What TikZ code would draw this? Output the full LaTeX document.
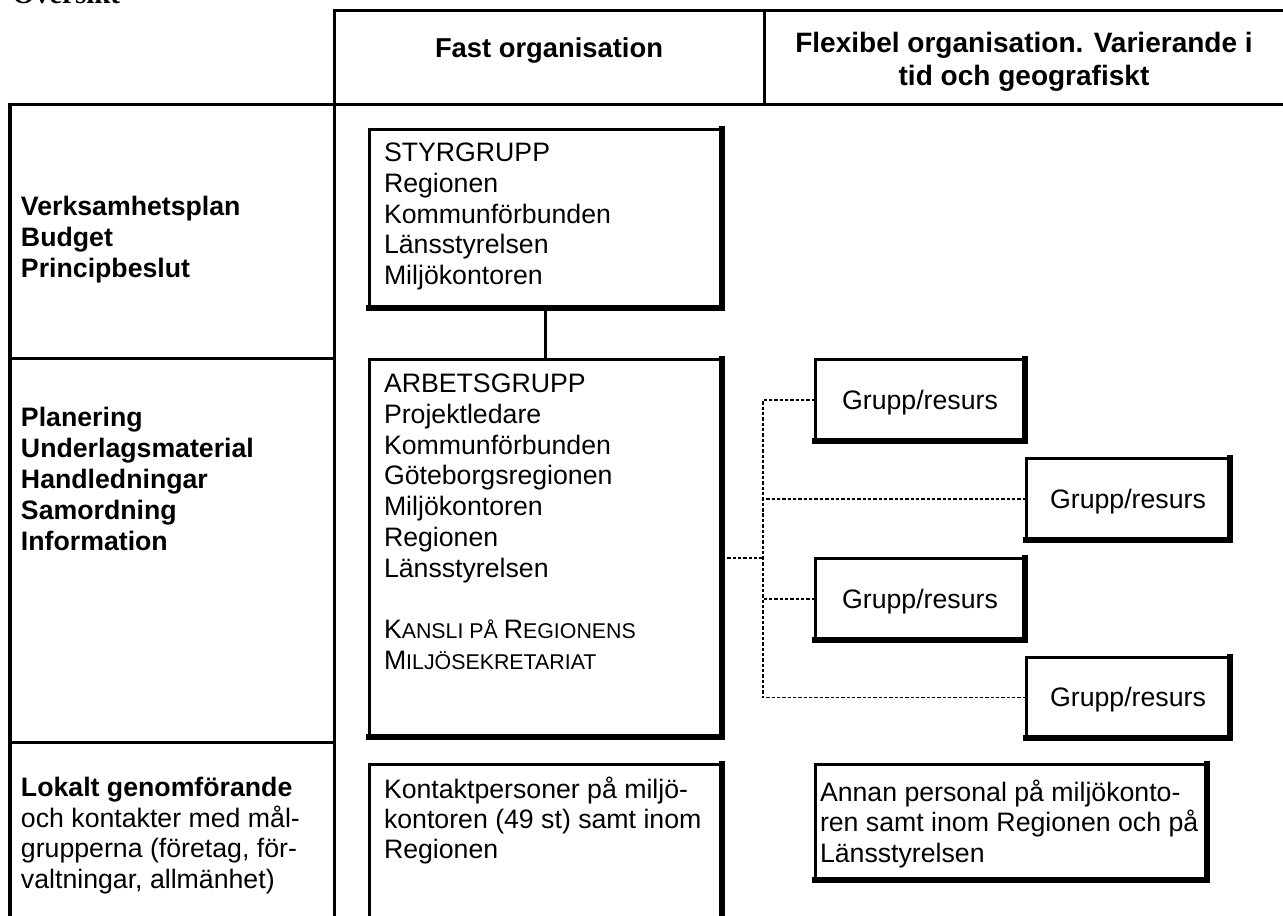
\documentclass[tikz,border=0pt]{standalone}
\usepackage{fontspec}
\setmainfont{Liberation Sans}
\newfontfamily\serifbf{Liberation Serif}
\usetikzlibrary{fit,calc}
\newcommand{\smc}[1]{{\fontsize{9.6}{13.9}\selectfont #1}}
\begin{document}
\begin{tikzpicture}[x=0.4496pt, y=-0.4496pt,
  tbl/.style={line width=1.35pt, line cap=rect},
  box/.style={draw, line width=1.35pt, inner sep=0pt, outer sep=0pt, fill=white},
  thickedge/.style={line width=2.7pt, line cap=rect, line join=miter},
  txt/.style={anchor=north west, inner sep=0pt, outer sep=0pt, align=left,
              yshift=11pt, execute at begin node={\rule{0pt}{11pt}}},
  f12/.style={font=\fontsize{12}{13.9}\selectfont},
  f12b/.style={font=\bfseries\fontsize{12}{13.9}\selectfont},
  gtxt/.style={inner sep=0pt, font=\fontsize{12}{13.9}\selectfont, yshift=-1pt},
  dotln/.style={line width=0.8pt, dash pattern=on 1.5pt off 0.9pt},
  conn/.style={line width=1.5pt}
]
\useasboundingbox (0,0) rectangle (1283,915);
\clip (0,0) rectangle (1283,915);

% title (cut off at top)
\node[anchor=base west, inner sep=0pt, font=\serifbf\bfseries\fontsize{13}{15}\selectfont] (title) at (12,3) {Översikt};

% table lines
\draw[tbl] (334,10) -- (1295,10);
\draw[tbl] (10,104) -- (1295,104);
\draw[tbl] (764,10) -- (764,104);
\draw[tbl] (334,10) -- (334,930);
\draw[tbl] (10,104) -- (10,930);
\draw[tbl] (10,358) -- (334,358);
\draw[tbl] (10,742) -- (334,742);

% header texts
\node[anchor=base, inner sep=0pt, font=\bfseries\fontsize{12.3}{14}\selectfont] (hfast) at (549,57) {Fast organisation};
\node[txt, anchor=north, align=center, font=\bfseries\fontsize{12.6}{14.6}\selectfont] (hflex) at (1024,57)
  {Flexibel organisation. Varierande i\\tid och geografiskt};

% left column
\node[txt, f12b] (lv) at (21,221) {Verksamhetsplan\\Budget\\Principbeslut};
\node[txt, f12b] (lp) at (21,432) {Planering\\Underlagsmaterial\\Handledningar\\Samordning\\Information};
\node[txt, font=\fontsize{12}{13.7}\selectfont] (ll) at (21,802)
  {\textbf{Lokalt genomförande}\\och kontakter med mål-\\grupperna (företag, för-\\valtningar, allmänhet)};

% boxes
\node[box, fit={(369,129) (722,308)}] (sty) {};
\node[box, fit={(369,359) (722,737)}] (arb) {};
\node[box, fit={(369,764) (722,960)}] (kon) {};
\node[box, fit={(815,764) (1207,880)}] (ann) {};
\node[box, fit={(815,359) (1025,441)}] (g1) {};
\node[box, fit={(1026,458) (1230,540)}] (g2) {};
\node[box, fit={(815,558) (1025,640)}] (g3) {};
\node[box, fit={(1026,657) (1230,738)}] (g4) {};

\foreach \n in {sty,arb,kon,ann,g1,g2,g3,g4}
  \draw[thickedge] (\n.north east) -- (\n.south east) -- (\n.south west);

% box texts
\node[txt, f12] (styt) at (384,167) {STYRGRUPP\\Regionen\\Kommunförbunden\\Länsstyrelsen\\Miljökontoren};
\node[txt, f12] (arbt) at (384,398) {ARBETSGRUPP\\Projektledare\\Kommunförbunden\\Göteborgsregionen\\Miljökontoren\\Regionen\\Länsstyrelsen};
\node[txt, f12] (kans) at (384,644) {K\smc{ANSLI PÅ }R\smc{EGIONENS}\\M\smc{ILJÖSEKRETARIAT}};
\node[txt, font=\fontsize{12}{13.6}\selectfont] (kont) at (384,801) {Kontaktpersoner på miljö-\\kontoren (49 st) samt inom\\Regionen};
\node[txt, font=\fontsize{12}{13.7}\selectfont] (annt) at (820,804) {Annan personal på miljökonto-\\ren samt inom Regionen och på\\Länsstyrelsen};
\foreach \n in {g1,g2,g3,g4}
  \node[gtxt] (\n t) at (\n.center) {Grupp/resurs};

% connectors
\draw[conn] (sty.south) -- (arb.north);
\coordinate (tj) at (763,558);
\draw[dotln] (arb.east |- tj) -- (tj);
\draw[dotln] (g1.west) -| (tj);
\draw[dotln] (g2.west) -| (tj);
\draw[dotln] (g3.west) -| (tj);
\draw[dotln] (g4.west) -| (tj);
\end{tikzpicture}
\end{document}
